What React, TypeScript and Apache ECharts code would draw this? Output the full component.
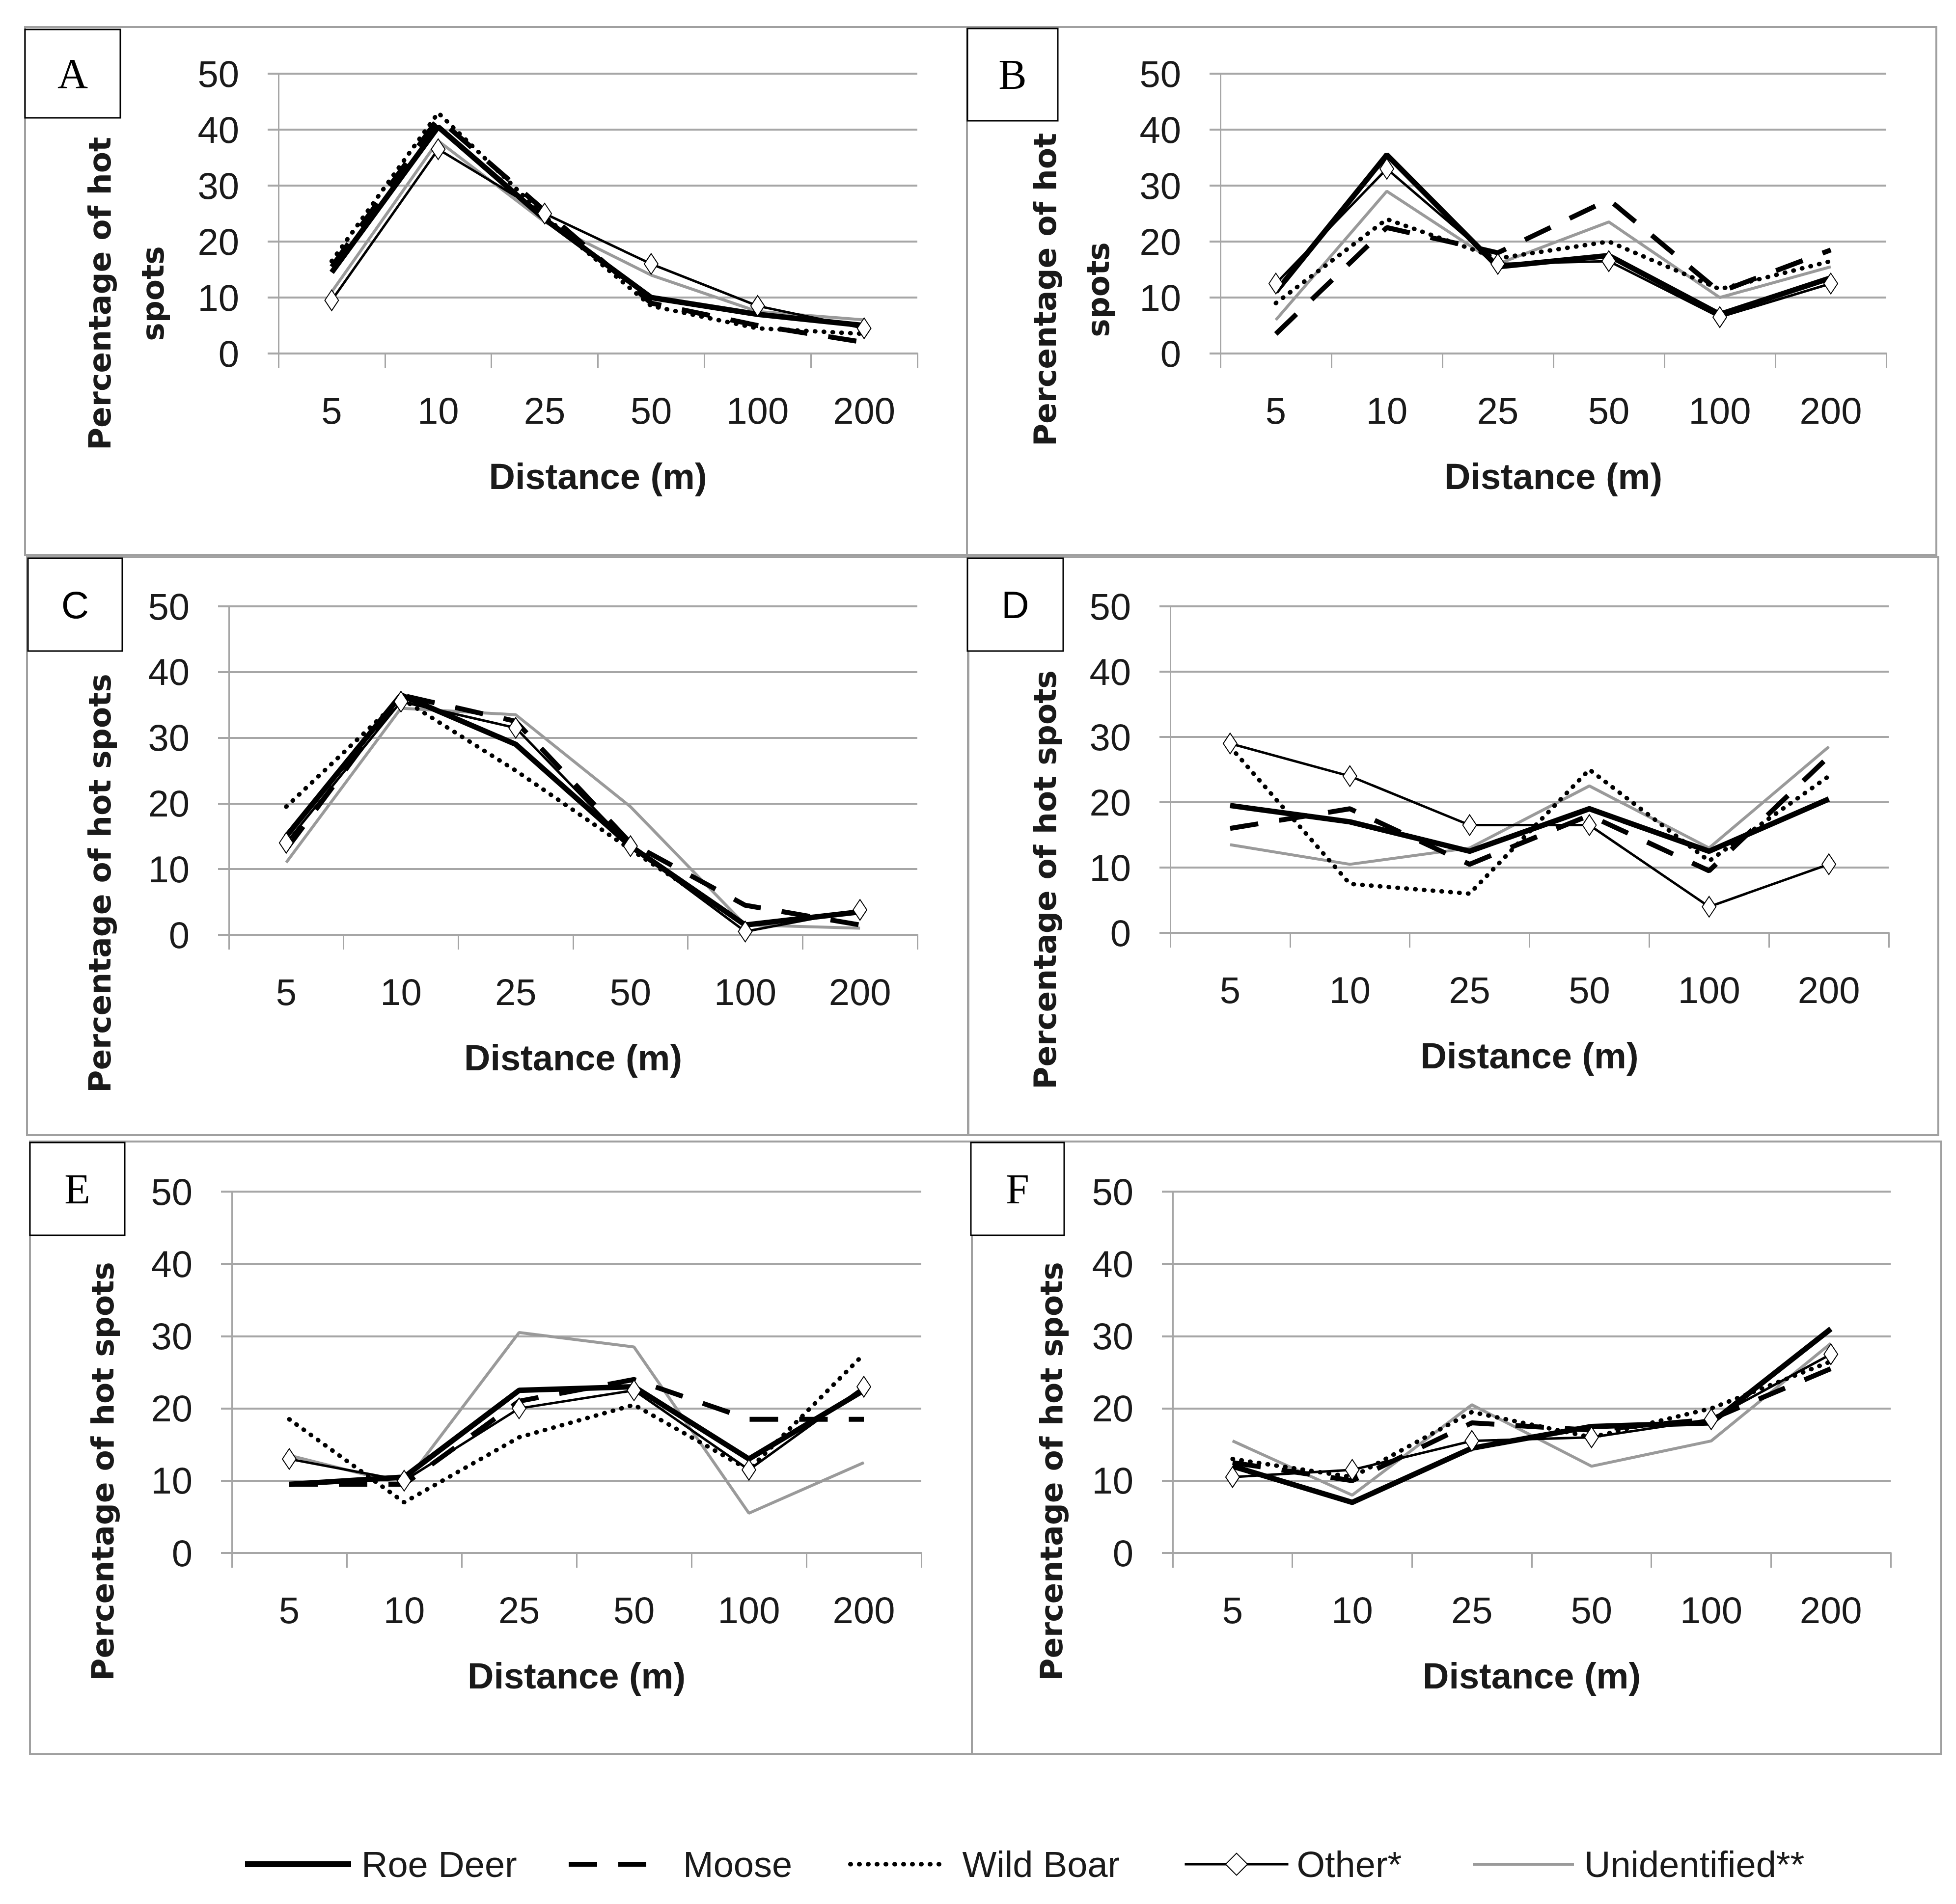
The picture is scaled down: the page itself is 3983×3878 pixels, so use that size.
import React, { useEffect, useRef } from 'react';
import * as echarts from 'echarts';

const W = 3983;
const H = 3878;

const categories = ['5', '10', '25', '50', '100', '200'];
const yMin = 0;
const yMax = 50;
const yInterval = 10;
const seriesNames = ['Roe Deer', 'Moose', 'Wild Boar', 'Other*', 'Unidentified**'];
const panelLetters = ['A', 'B', 'C', 'D', 'E', 'F'];
const xTitle = 'Distance (m)';
const yTitleOneLine = 'Percentage of hot spots';
const yTitleTwoLines = 'Percentage of hot\nspots';

// Panel A
const roeDeerA = [14.5, 40.5, 24, 10, 7, 5];
const mooseA = [15.5, 42, 25.5, 9, 5, 2];
const wildBoarA = [16.5, 43, 24.5, 8.5, 4.5, 3.5];
const otherA = [9.5, 36.5, 25, 16, 8.5, 4.5];
const unidentifiedA = [11, 38, 23.5, 14, 7.5, 6];

// Panel B
const roeDeerB = [11, 35.5, 15.5, 17.5, 7, 13.5];
const mooseB = [3.5, 22.5, 18, 27.5, 11, 18.5];
const wildBoarB = [9, 24, 17, 20, 11.5, 16.5];
const otherB = [12.5, 33, 16, 16.5, 6.5, 12.5];
const unidentifiedB = [6, 29, 16, 23.5, 10, 15.5];

// Panel C
const roeDeerC = [15, 36.5, 29, 13.5, 1.5, 3.5];
const mooseC = [13, 36.5, 32.5, 14, 4.5, 1.5];
const wildBoarC = [19.5, 36, 25, 13, 1.5, 3.5];
const otherC = [14, 35.5, 31.5, 13.5, 0.5, 3.8];
const unidentifiedC = [11, 34.5, 33.5, 19.5, 1.5, 1];

// Panel D
const roeDeerD = [19.5, 17, 12.5, 19, 12.5, 20.5];
const mooseD = [16, 19, 10.5, 18, 9.5, 27];
const wildBoarD = [28.5, 7.5, 6, 25, 11, 24];
const otherD = [29, 24, 16.5, 16.5, 4, 10.5];
const unidentifiedD = [13.5, 10.5, 13, 22.5, 13, 28.5];

// Panel E
const roeDeerE = [9.5, 10.5, 22.5, 23, 13, 22.5];
const mooseE = [9.5, 9.5, 21, 24, 18.5, 18.5];
const wildBoarE = [18.5, 7, 16, 20.5, 11.5, 27.5];
const otherE = [13, 10, 20, 22.5, 11.5, 23];
const unidentifiedE = [13.5, 9.5, 30.5, 28.5, 5.5, 12.5];

// Panel F
const roeDeerF = [12, 7, 14.5, 17.5, 18, 31];
const mooseF = [12.5, 10, 18, 17, 18.5, 25.5];
const wildBoarF = [13, 10.5, 19.5, 16, 20, 26.5];
const otherF = [10.5, 11.5, 15.5, 16, 18.5, 27.5];
const unidentifiedF = [15.5, 8, 20.5, 12, 15.5, 29];

const panelData = [
  [roeDeerA, mooseA, wildBoarA, otherA, unidentifiedA],
  [roeDeerB, mooseB, wildBoarB, otherB, unidentifiedB],
  [roeDeerC, mooseC, wildBoarC, otherC, unidentifiedC],
  [roeDeerD, mooseD, wildBoarD, otherD, unidentifiedD],
  [roeDeerE, mooseE, wildBoarE, otherE, unidentifiedE],
  [roeDeerF, mooseF, wildBoarF, otherF, unidentifiedF],
];

const SANS = "'Liberation Sans', Arial, sans-serif";
const TITLE = "'DejaVu Sans', Verdana, sans-serif";
const SERIF = "'Liberation Serif', 'Times New Roman', serif";
const GRID_GRAY = '#a6a6a6';
const BORDER_GRAY = '#a0a0a0';
const TEXT = '#1a1a1a';

const layouts = [
  { grid: { left: 567, top: 150, width: 1301, height: 570 }, box: [51, 55, 1918, 1075], tag: [51, 60, 194, 180], tagFont: SERIF, yt: { x: 257, y: 598, two: true } },
  { grid: { left: 2485, top: 150, width: 1356, height: 570 }, box: [1969, 55, 1974, 1075], tag: [1970, 58, 184, 188], tagFont: SERIF, yt: { x: 2182, y: 590, two: true } },
  { grid: { left: 466, top: 1235, width: 1402, height: 669 }, box: [55, 1135, 1916, 1177], tag: [57, 1137, 192, 189], tagFont: SANS, yt: { x: 203, y: 1799, two: false } },
  { grid: { left: 2383, top: 1235, width: 1463, height: 665 }, box: [1972, 1135, 1975, 1177], tag: [1970, 1137, 195, 189], tagFont: SANS, yt: { x: 2128, y: 1792, two: false } },
  { grid: { left: 472, top: 2427, width: 1404, height: 736 }, box: [61, 2325, 1918, 1248], tag: [61, 2327, 193, 189], tagFont: SERIF, yt: { x: 209, y: 2997, two: false } },
  { grid: { left: 2388, top: 2427, width: 1462, height: 736 }, box: [1979, 2325, 1974, 1248], tag: [1977, 2327, 190, 189], tagFont: SERIF, yt: { x: 2141, y: 2997, two: false } },
];

const seriesStyles: any[] = [
  { symbol: 'none', lineStyle: { color: '#000', width: 11, type: 'solid' }, itemStyle: { color: '#000' }, z: 4 },
  { symbol: 'none', lineStyle: { color: '#000', width: 10, type: [58, 43] }, itemStyle: { color: '#000' }, z: 3 },
  { symbol: 'none', lineStyle: { color: '#000', width: 9, type: [1, 17], cap: 'round' }, itemStyle: { color: '#000' }, z: 3 },
  { symbol: 'emptyDiamond', symbolSize: [28, 42], showSymbol: true, lineStyle: { color: '#000', width: 5 }, itemStyle: { color: '#000', borderWidth: 3 }, z: 5 },
  { symbol: 'none', lineStyle: { color: '#9a9a9a', width: 6 }, itemStyle: { color: '#9a9a9a' }, z: 2 },
];

const legendPos = [
  { left: 488, w: 216, pad: 16 },
  { left: 1148, w: 158, pad: 70 },
  { left: 1722, w: 191, pad: 32 },
  { left: 2405, w: 211, pad: 12 },
  { left: 2991, w: 206, pad: 16 },
];
const legendLine: any[] = [
  { color: '#000', width: 12, type: 'solid' },
  { color: '#000', width: 10, type: [58, 43] },
  { color: '#000', width: 9, type: [1, 17], cap: 'round' },
  { color: '#000', width: 5, type: 'solid' },
  { color: '#9a9a9a', width: 6, type: 'solid' },
];
const HIDDEN_MARK = { color: 'rgba(0,0,0,0)', borderColor: 'rgba(0,0,0,0)', borderWidth: 0, opacity: 0 };

function buildOption() {
  const grid: any[] = [];
  const xAxis: any[] = [];
  const yAxis: any[] = [];
  const series: any[] = [];
  const graphic: any[] = [];

  layouts.forEach((L, p) => {
    grid.push({ ...L.grid, containLabel: false, outerBoundsMode: 'none' });
    xAxis.push({
      type: 'category',
      gridIndex: p,
      data: categories,
      boundaryGap: true,
      name: xTitle,
      nameLocation: 'middle',
      nameGap: 250,
      nameTextStyle: { fontFamily: SANS, fontWeight: 'bold', fontSize: 74, color: TEXT, verticalAlign: 'middle' },
      axisLine: { show: true, lineStyle: { color: GRID_GRAY, width: 4 } },
      axisTick: { show: true, inside: false, length: 30, interval: 0, alignWithLabel: false, lineStyle: { color: GRID_GRAY, width: 3 } },
      axisLabel: { show: true, interval: 0, margin: 116, verticalAlign: 'middle', fontFamily: SANS, fontSize: 76, color: TEXT },
      splitLine: { show: false },
    });
    yAxis.push({
      type: 'value',
      gridIndex: p,
      min: yMin,
      max: yMax,
      interval: yInterval,
      axisLine: { show: true, lineStyle: { color: GRID_GRAY, width: 3 } },
      axisTick: { show: true, inside: false, length: 22, lineStyle: { color: GRID_GRAY, width: 4 } },
      axisLabel: { show: true, margin: 80, fontFamily: SANS, fontSize: 76, color: TEXT },
      splitLine: { show: true, lineStyle: { color: GRID_GRAY, width: 4 } },
    });
    seriesNames.forEach((name, s) => {
      series.push({
        type: 'line',
        name,
        xAxisIndex: p,
        yAxisIndex: p,
        data: panelData[p][s],
        ...seriesStyles[s],
        emphasis: { disabled: true },
      });
    });

    const [bx, by, bw, bh] = L.box;
    graphic.push({
      type: 'rect',
      shape: { x: bx, y: by, width: bw, height: bh },
      style: { fill: 'none', stroke: BORDER_GRAY, lineWidth: 4 },
      z: 0,
      silent: true,
    });
    const [tx, ty, tw, th] = L.tag;
    graphic.push({
      type: 'rect',
      shape: { x: tx, y: ty, width: tw, height: th },
      style: { fill: '#fff', stroke: '#000', lineWidth: 3 },
      z: 10,
      silent: true,
    });
    graphic.push({
      type: 'text',
      x: tx + tw / 2,
      y: ty + th / 2,
      style: {
        text: panelLetters[p],
        align: 'center',
        verticalAlign: 'middle',
        fontFamily: L.tagFont,
        fontSize: L.tagFont === SERIF ? 86 : 78,
        fill: '#000',
      },
      z: 11,
      silent: true,
    });
    graphic.push({
      type: 'text',
      x: L.yt.x,
      y: L.yt.y,
      rotation: Math.PI / 2,
      style: {
        text: L.yt.two ? yTitleTwoLines : yTitleOneLine,
        align: 'center',
        verticalAlign: 'middle',
        fontFamily: TITLE,
        fontWeight: 'bold',
        fontSize: 63,
        lineHeight: 108,
        fill: TEXT,
      },
      z: 11,
      silent: true,
    });
  });

  const legend = seriesNames.map((name, i) => ({
    data: [name],
    left: legendPos[i].left,
    top: 3752,
    orient: 'horizontal',
    itemWidth: legendPos[i].w,
    itemHeight: i === 3 ? 56 : 40,
    selectedMode: false,
    lineStyle: legendLine[i],
    itemStyle: i === 3 ? { color: '#000', borderColor: '#000' } : HIDDEN_MARK,
    textStyle: {
      fontFamily: SANS,
      fontSize: 74,
      lineHeight: 80,
      color: TEXT,
      padding: [0, 0, 0, legendPos[i].pad],
    },
  }));

  return {
    animation: false,
    backgroundColor: '#ffffff',
    grid,
    xAxis,
    yAxis,
    series,
    legend,
    graphic,
  };
}

export default function App() {
  const ref = useRef<HTMLDivElement>(null);
  useEffect(() => {
    if (!ref.current) return;
    document.body.style.margin = '0';
    document.body.style.overflow = 'hidden';
    const chart = echarts.init(ref.current, undefined, { renderer: 'svg', width: W, height: H });
    chart.setOption(buildOption() as any);
    return () => {
      chart.dispose();
    };
  }, []);
  return (
    <div
      ref={ref}
      style={{ position: 'absolute', left: 0, top: 0, width: W, height: H, background: '#fff' }}
    />
  );
}
